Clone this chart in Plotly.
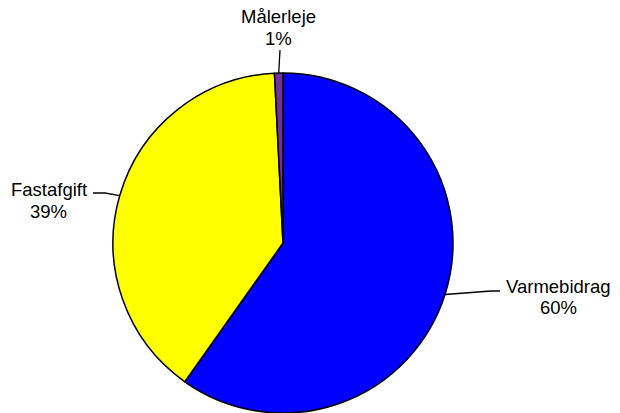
import math
import plotly.graph_objects as go

labels = ["Varmebidrag", "Fastafgift", "Målerleje"]
values = [59.8, 39.4, 0.8]
colors = ["#0000FF", "#FFFF00", "#7030A0"]

W, H = 620, 413
cx, cy, r = 283, 243, 170  # pie centre / radius in pixels

fig = go.Figure(go.Pie(
    labels=labels, values=values, sort=False, direction="clockwise", rotation=0,
    marker=dict(colors=colors, line=dict(color="black", width=1.5)),
    textinfo="none", hoverinfo="label+percent", showlegend=False,
    domain=dict(x=[(cx - r) / W, (cx + r) / W], y=[1 - (cy + r) / H, 1 - (cy - r) / H]),
))

# label layout: (name centre x, name centre y, pct centre y, elbow points)
label_pos = {
    "Varmebidrag": (558, 286, 307, [(491, 291), (500, 291)]),
    "Fastafgift": (49, 189, 211, [(105, 193), (93, 193)]),
    "Målerleje": (278, 17, 39, [(280, 50)]),
}

def px(x, y):
    return x / W, 1 - y / H

total = sum(values)
start = 0.0
annotations = []
shapes = []
font = dict(family="Arial, Liberation Sans, sans-serif", size=18.5, color="black")
for lab, v in zip(labels, values):
    mid = (start + v / 2) / total * 2 * math.pi
    start += v
    ex, ey = cx + r * math.sin(mid), cy - r * math.cos(mid)
    tx, ny, py, elbows = label_pos[lab]
    pts = [(ex, ey)] + elbows
    path = "M " + " L ".join("%f,%f" % px(x, y) for x, y in pts)
    shapes.append(dict(type="path", xref="paper", yref="paper", path=path,
                       line=dict(color="black", width=1.3)))
    for text, yy in ((lab, ny), ("%d%%" % round(v / total * 100), py)):
        x0, y0 = px(tx, yy)
        annotations.append(dict(text=text, x=x0, y=y0, xref="paper", yref="paper",
                                xanchor="center", yanchor="middle", showarrow=False, font=font))

fig.update_layout(
    width=W, height=H, margin=dict(l=0, r=0, t=0, b=0),
    paper_bgcolor="white", plot_bgcolor="white",
    annotations=annotations, shapes=shapes,
)
fig.write_html("out.html", config={"displayModeBar": False},
               post_script="document.body.style.margin='0px';document.body.style.overflow='hidden';")
